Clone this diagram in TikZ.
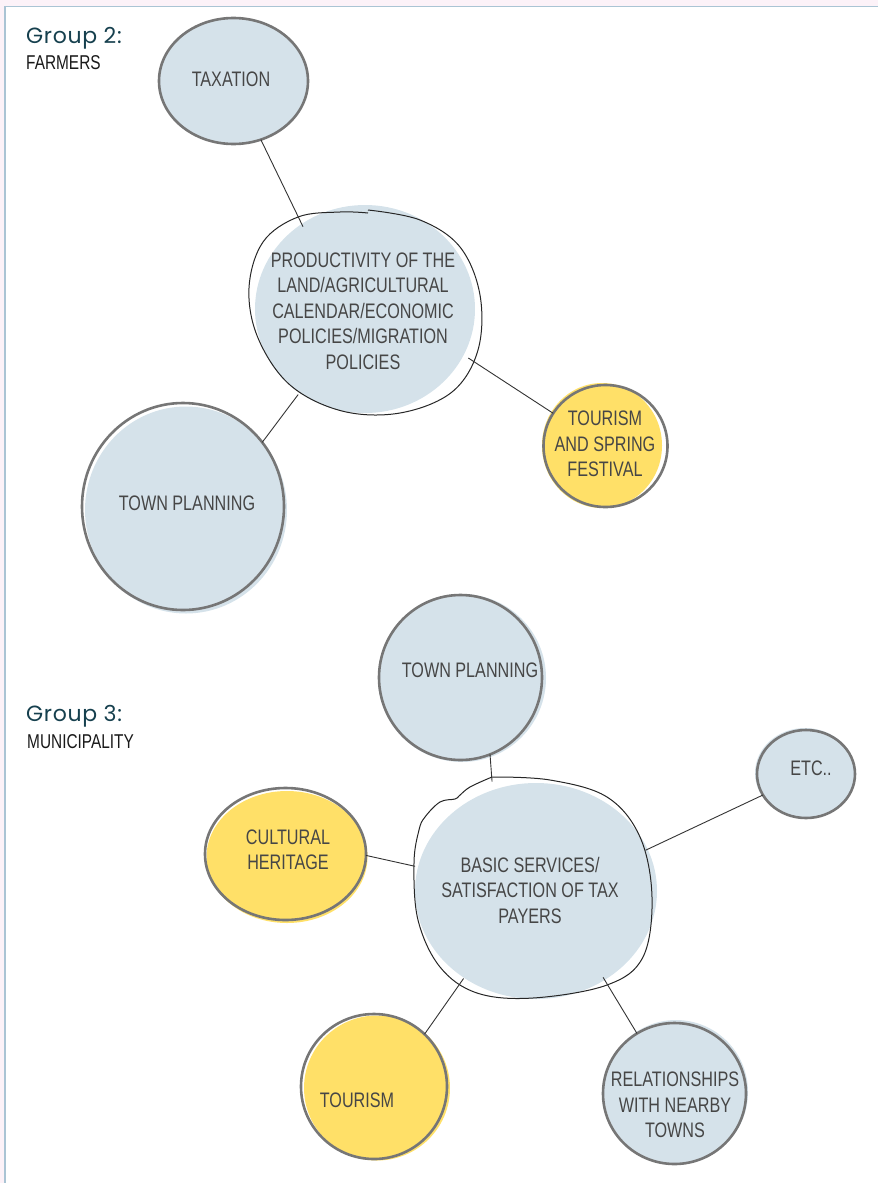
\documentclass[tikz,border=0pt]{standalone}
\usepackage{fontspec}
\usetikzlibrary{shapes.geometric}

\newfontfamily\sketchfont[FakeStretch=0.77]{Liberation Sans}
\newfontfamily\groupfont[LetterSpace=3]{Poppins}

\definecolor{bubbleblue}{RGB}{213,226,234}
\definecolor{bubbleyellow}{RGB}{255,224,104}
\definecolor{rimgray}{RGB}{118,118,118}
\definecolor{inkgray}{RGB}{70,70,70}
\definecolor{groupteal}{RGB}{22,64,78}
\definecolor{pagepink}{RGB}{252,242,248}
\definecolor{pageline}{RGB}{170,196,212}

\tikzset{
  bubble/.style={ellipse, draw=rimgray, line width=2.6pt, inner sep=0pt, outer sep=0pt},
  hub/.style={ellipse, inner sep=0pt, outer sep=0pt},
  sketch/.style={font=\sketchfont\fontsize{21}{25.5}\selectfont, text=inkgray, align=center, inner sep=0pt},
  caption/.style={font=\sketchfont\fontsize{20}{24}\selectfont, text=black!90, anchor=base west, inner sep=0pt},
  grouptitle/.style={font=\groupfont\fontsize{22}{26}\selectfont, text=groupteal, anchor=base west, inner sep=0pt},
  link/.style={draw=black!80, line width=0.9pt},
  rim/.style={draw=black!85, line width=1pt},
}

\begin{document}
\begin{tikzpicture}[x=1pt,y=1pt,yscale=-1,xscale=1]
\useasboundingbox (0,0) rectangle (878,1183);

%Page edge
\fill[pagepink] (0,0) rectangle (878,6);
\fill[pagepink] (0,0) rectangle (5,1183);
\draw[pageline, line width=1.5pt] (5,1183) -- (5,6.5) -- (878,6.5);

% Text Node
\node[grouptitle] (grp2) at (26,43) {Group 2:};
\node[caption] (farmers) at (26,69) {FARMERS};
% Text Node
\node[grouptitle] (grp3) at (26,721) {Group 3:};
\node[caption] (municip) at (27,748) {MUNICIPALITY};

%%% Group 2 %%%

%Shape: Ellipse
\fill[bubbleblue] (233.5,81) ellipse (74.5 and 63);
\node[bubble, minimum width=149pt, minimum height=126pt] (tax) at (233.5,81) {};
%Shape: Blob
\fill[bubbleblue] (365,309) ellipse (110 and 104);
\node[hub, minimum width=232pt, minimum height=202pt] (prod) at (365,312) {};
\draw[rim] plot[smooth, tension=0.6] coordinates {(368,210) (420,220) (460,247) (480,295) (478,350) (452,392) (400,413) (342,411) (290,385) (258,338) (249,288) (263,242) (298,217) (340,212) (368,213)};
%Shape: Circle
\fill[bubbleyellow] (602,445.5) ellipse (60 and 62.5);
\node[bubble, minimum width=124pt, minimum height=122pt] (fest) at (605.5,446) {};
%Shape: Circle
\fill[bubbleblue] (186,510) ellipse (101 and 103.5);
\node[bubble, minimum width=202pt, minimum height=207pt] (town1) at (183,506.5) {};

%Straight Lines
\draw[link] (tax.295) -- (prod.126);
\draw[link] (prod.231) -- (town1.39);
\draw[link] (prod.336) -- (fest.148);

% Text Node
\node[sketch] (taxtxt) at (231,79) {TAXATION};
\node[sketch] (prodtxt) at (363,311) {PRODUCTIVITY OF THE\\LAND/AGRICULTURAL\\CALENDAR/ECONOMIC\\POLICIES/MIGRATION\\POLICIES};
\node[sketch] (festtxt) at (605,444) {TOURISM\\AND SPRING\\FESTIVAL};
\node[sketch] (town1txt) at (187,503) {TOWN PLANNING};

%%% Group 3 %%%

%Shape: Circle
\fill[bubbleblue] (462,678) ellipse (84 and 84);
\node[bubble, minimum width=163pt, minimum height=165pt] (town2) at (460.5,677.5) {};
%Shape: Circle
\fill[bubbleblue] (805,773) ellipse (50 and 45);
\node[bubble, minimum width=98pt, minimum height=88pt] (etc) at (806,774) {};
%Shape: Ellipse
\fill[bubbleyellow] (287,857) ellipse (80.5 and 66);
\node[bubble, minimum width=161pt, minimum height=132pt] (herit) at (285.5,854) {};
%Shape: Blob
\fill[bubbleblue] (536,891) ellipse (121 and 108);
\node[hub, minimum width=239pt, minimum height=224pt] (serv) at (532.5,887) {};
\draw[rim] plot[smooth, tension=0.6] coordinates {(492,777) (550,780) (607,797) (640,837) (652,897) (643,957) (607,985) (533,998) (477,993) (440,967) (418,920) (414,863) (419,830) (425,817) (440,802) (455,799) (459,796) (470,787) (492,777)};
%Shape: Circle
\fill[bubbleyellow] (377,1088) ellipse (73 and 72.5);
\node[bubble, minimum width=146pt, minimum height=145pt] (tour) at (374,1086.5) {};
%Shape: Circle
\fill[bubbleblue] (676,1092) ellipse (72 and 72);
\node[bubble, minimum width=143pt, minimum height=141pt] (rel) at (674.5,1093.5) {};

%Straight Lines
\draw[link] (serv.111) -- (town2.291);
\draw[link] (serv.18) -- (etc.206);
\draw[link] (herit.359) -- (serv.170);
\draw[link] (serv.233) -- (tour.46);
\draw[link] (serv.308) -- (rel.122);

% Text Node
\node[sketch] (town2txt) at (470,670) {TOWN PLANNING};
\node[sketch] (etctxt) at (811,768) {ETC..};
\node[sketch] (herittxt) at (288,850) {CULTURAL\\HERITAGE};
\node[sketch] (servtxt) at (530,890) {BASIC SERVICES/\\SATISFACTION OF TAX\\PAYERS};
\node[sketch] (tourtxt) at (357,1100) {TOURISM};
\node[sketch] (reltxt) at (675,1105) {RELATIONSHIPS\\WITH NEARBY\\TOWNS};

\end{tikzpicture}
\end{document}
